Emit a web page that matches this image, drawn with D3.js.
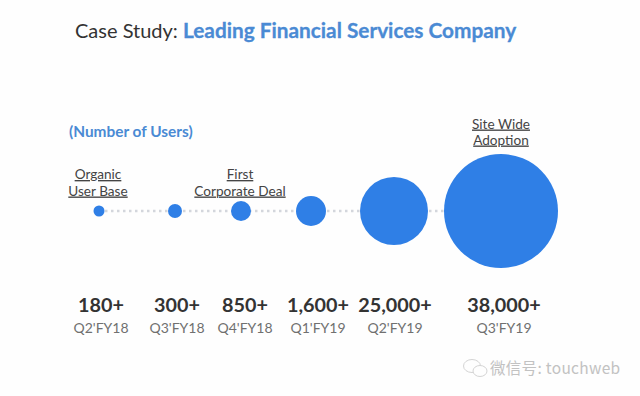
<!DOCTYPE html>
<html>
<head>
<meta charset="utf-8">
<script src="https://cdn.jsdelivr.net/npm/d3@7"></script>
<style>
  html, body { margin: 0; padding: 0; background: #fefefe; }
  svg { display: block; font-family: Lato, "Noto Sans", sans-serif; }
  .note { font-size: 13.6px; fill: #444; text-anchor: middle; text-decoration: underline; }
  .users { font-size: 19.8px; font-weight: 700; fill: #333; text-anchor: middle; }
  .quarter { font-size: 14px; fill: #707070; text-anchor: middle; }
</style>
</head>
<body>
<svg id="chart" width="640" height="396"></svg>
<script>
const quarters = ["Q2'FY18", "Q3'FY18", "Q4'FY18", "Q1'FY19", "Q2'FY19", "Q3'FY19"];
const users = [180, 300, 850, 1600, 25000, 38000];
const userLabels = ["180+", "300+", "850+", "1,600+", "25,000+", "38,000+"];
const notes = [["Organic", "User Base"], [], ["First", "Corporate Deal"], [], [], ["Site Wide", "Adoption"]];

const blue = "#2f7fe6";
const titleBlue = "#4a8ad4";

let svg = d3.select("#chart");

// the slide spaces its columns by hand, so these are ordinal and not even
let x = d3.scaleOrdinal().domain(quarters).range([99, 175, 241, 311, 394, 501]);
let labelX = d3.scaleOrdinal().domain(quarters).range([101, 177, 245, 318, 395, 504]);
let noteX = d3.scaleOrdinal().domain(quarters).range([98, 175, 240, 311, 394, 501]);

// bubble sizes are not proportional on the slide either
let r = d3.scaleLinear().domain(users).range([5.5, 7, 10, 15, 34, 57]);

const axisY = 211;

let title = svg.append("text")
    .attr("x", 75)
    .attr("y", 38);
title.append("tspan").attr("fill", "#333").attr("font-size", 20).text("Case Study: ");
title.append("tspan")
    .attr("fill", titleBlue)
    .attr("font-size", 20.8)
    .attr("font-weight", 700)
    .attr("stroke", titleBlue)
    .attr("stroke-width", 0.3)
    .text("Leading Financial Services Company");

svg.append("text")
    .attr("x", 69)
    .attr("y", 137)
    .attr("font-size", 15.4)
    .attr("font-weight", 700)
    .attr("fill", titleBlue)
    .text("(Number of Users)");

svg.append("line")
    .attr("x1", x(quarters[0]))
    .attr("x2", x(quarters[quarters.length - 1]))
    .attr("y1", axisY)
    .attr("y2", axisY)
    .attr("stroke", "#d3d6dc")
    .attr("stroke-width", 2.5)
    .attr("stroke-dasharray", "2.5 3.5");

svg.selectAll(".bubble")
    .data(quarters)
    .enter()
    .append("circle")
    .attr("class", "bubble")
    .attr("cx", function(d) { return x(d); })
    .attr("cy", axisY)
    .attr("r", function(d, i) { return r(users[i]); })
    .attr("fill", blue);

quarters.forEach(function(q, i) {
    let lines = notes[i];
    // the tall bubble pushes its note higher up
    let top = i == 5 ? 128.5 : 179;
    let gap = i == 5 ? 16 : 16.5;
    lines.forEach(function(line, j) {
        svg.append("text")
            .attr("class", "note")
            .attr("x", noteX(q))
            .attr("y", top + j * gap)
            .text(line);
    });
});

svg.selectAll(".users")
    .data(userLabels)
    .enter()
    .append("text")
    .attr("class", "users")
    .attr("x", function(d, i) { return labelX(quarters[i]); })
    .attr("y", 312)
    .text(function(d) { return d; });

svg.selectAll(".quarter")
    .data(quarters)
    .enter()
    .append("text")
    .attr("class", "quarter")
    .attr("x", function(d) { return labelX(d); })
    .attr("y", 333)
    .text(function(d) { return d; });

// wechat watermark
let mark = svg.append("g").attr("fill", "#fefefe").attr("stroke", "#d4d4d4");
mark.append("ellipse").attr("cx", 472).attr("cy", 366).attr("rx", 8.5).attr("ry", 6.5);
mark.append("ellipse").attr("cx", 480).attr("cy", 371).attr("rx", 7).attr("ry", 5.5);

svg.append("text")
    .attr("x", 490)
    .attr("y", 374)
    .attr("font-family", "'Noto Sans CJK SC', sans-serif")
    .attr("font-size", 15.5)
    .attr("letter-spacing", 0.3)
    .attr("fill", "#c2c2c2")
    .text("微信号: touchweb");
</script>
</body>
</html>
